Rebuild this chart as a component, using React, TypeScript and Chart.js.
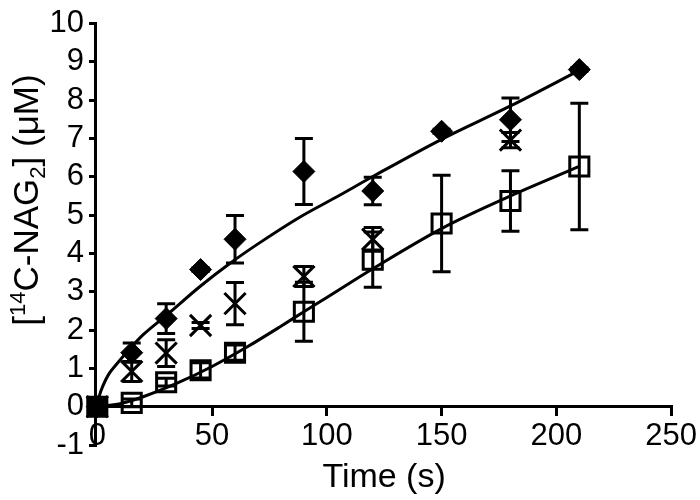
import React, { useEffect, useRef } from "react";
import { Chart, registerables } from "chart.js";

Chart.register(...registerables);

// ---- Data ----
const diamondTimes = [0, 15, 30, 45, 60, 90, 120, 150, 180, 210];
const diamondValues = [0, 1.41, 2.3, 3.58, 4.37, 6.14, 5.63, 7.19, 7.49, 8.8];
const diamondErrors = [0, 0.25, 0.39, 0.05, 0.62, 0.86, 0.36, 0.05, 0.57, 0.05];

const crossTimes = [0, 15, 30, 45, 60, 90, 120, 180];
const crossValues = [0, 0.92, 1.4, 2.12, 2.69, 3.4, 4.37, 6.96];
const crossErrors = [0, 0.26, 0.35, 0.08, 0.55, 0.26, 0.31, 0.2];

const squareTimes = [0, 15, 30, 45, 60, 90, 120, 150, 180, 210];
const squareValues = [0, 0.1, 0.64, 0.95, 1.41, 2.48, 3.84, 4.78, 5.37, 6.27];
const squareErrors = [0, 0.1, 0.1, 0.2, 0.2, 0.77, 0.72, 1.26, 0.79, 1.65];

const fitTopTimes = [0, 1, 2.5, 5, 8, 14, 20, 30, 45, 58, 70, 88, 105, 121, 150, 180, 210];
const fitTopValues = [0, 0.3, 0.55, 0.85, 1.08, 1.5, 1.88, 2.38, 3.15, 3.75, 4.25, 4.94, 5.5, 6.04, 6.98, 7.85, 8.78];

const fitBottomTimes = [0, 10, 20, 35, 50, 65, 80, 90, 100, 120, 150, 180, 210];
const fitBottomValues = [0, 0.08, 0.26, 0.62, 1.05, 1.55, 2.1, 2.48, 2.85, 3.6, 4.65, 5.5, 6.27];

const xTickValues = [0, 50, 100, 150, 200, 250];
const yTickValues = [-1, 0, 1, 2, 3, 4, 5, 6, 7, 8, 9, 10];

const xTitle = "Time (s)";
const yTitleParts = [
  { text: "[", kind: "normal" },
  { text: "14", kind: "sup" },
  { text: "C-NAG", kind: "normal" },
  { text: "2", kind: "sub" },
  { text: "] (\u03bcM)", kind: "normal" },
];

const FONT = "Arial, 'Liberation Sans', Helvetica, sans-serif";

const toPoints = (xs: number[], ys: number[]) => xs.map((x, i) => ({ x, y: ys[i] }));

const errorBarPlugin = {
  id: "errorBars",
  beforeDatasetsDraw(chart: any) {
    const ctx = chart.ctx;
    const xs = chart.scales.x;
    const ys = chart.scales.y;
    chart.data.datasets.forEach((ds: any) => {
      const errs: number[] | undefined = ds.errorValues;
      if (!errs) return;
      ds.data.forEach((p: any, j: number) => {
        const e = errs[j];
        if (!e) return;
        const px = xs.getPixelForValue(p.x);
        const yTop = ys.getPixelForValue(p.y + e);
        const yBot = ys.getPixelForValue(p.y - e);
        ctx.save();
        ctx.strokeStyle = "#000";
        ctx.lineWidth = 3;
        ctx.beginPath();
        ctx.moveTo(px, yTop);
        ctx.lineTo(px, yBot);
        ctx.moveTo(px - 9, yTop);
        ctx.lineTo(px + 9, yTop);
        ctx.moveTo(px - 9, yBot);
        ctx.lineTo(px + 9, yBot);
        ctx.stroke();
        ctx.restore();
      });
    });
  },
};

const titlesPlugin = {
  id: "axisTitles",
  afterDraw(chart: any) {
    const ctx = chart.ctx;
    const area = chart.chartArea;
    ctx.save();
    ctx.fillStyle = "#000";
    // X title
    ctx.font = `34px ${FONT}`;
    ctx.textAlign = "center";
    ctx.textBaseline = "middle";
    ctx.fillText(xTitle, (area.left + area.right) / 2 + 1, 478);

    // Y title (rotated, with super/subscript)
    const bigFont = `35px ${FONT}`;
    const smallFont = `22px ${FONT}`;
    let total = 0;
    const widths = yTitleParts.map((p) => {
      ctx.font = p.kind === "normal" ? bigFont : smallFont;
      const w = ctx.measureText(p.text).width;
      total += w;
      return w;
    });
    ctx.translate(26, 200);
    ctx.rotate(-Math.PI / 2);
    ctx.textAlign = "left";
    ctx.textBaseline = "alphabetic";
    let x = -total / 2;
    const base = 12;
    yTitleParts.forEach((p, i) => {
      ctx.font = p.kind === "normal" ? bigFont : smallFont;
      const dy = p.kind === "sup" ? -13 : p.kind === "sub" ? 7 : 0;
      ctx.fillText(p.text, x, base + dy);
      x += widths[i];
    });
    ctx.restore();
  },
};

export default function App() {
  const canvasRef = useRef<HTMLCanvasElement | null>(null);

  useEffect(() => {
    document.body.style.margin = "0";
    const canvas = canvasRef.current;
    if (!canvas) return;

    const chart = new Chart(canvas, {
      type: "scatter",
      data: {
        datasets: [
          {
            type: "line",
            data: toPoints(fitTopTimes, fitTopValues),
            borderColor: "#000",
            borderWidth: 3,
            pointRadius: 0,
            cubicInterpolationMode: "monotone",
            fill: false,
            order: 10,
            clip: false,
          } as any,
          {
            type: "line",
            data: toPoints(fitBottomTimes, fitBottomValues),
            borderColor: "#000",
            borderWidth: 3,
            pointRadius: 0,
            cubicInterpolationMode: "monotone",
            fill: false,
            order: 10,
            clip: false,
          } as any,
          {
            data: toPoints(crossTimes, crossValues),
            errorValues: crossErrors,
            pointStyle: "crossRot",
            pointRadius: 15,
            borderColor: "#000",
            backgroundColor: "#000",
            borderWidth: 3,
            showLine: false,
            order: 3,
            clip: false,
          } as any,
          {
            data: toPoints(diamondTimes, diamondValues),
            errorValues: diamondErrors,
            pointStyle: "rectRot",
            pointRadius: 11,
            borderColor: "#000",
            backgroundColor: "#000",
            borderWidth: 1,
            showLine: false,
            order: 2,
            clip: false,
          } as any,
          {
            data: toPoints(squareTimes, squareValues),
            errorValues: squareErrors,
            pointStyle: "rect",
            pointRadius: 13.5,
            borderColor: "#000",
            backgroundColor: squareTimes.map((t) => (t === 0 ? "#000" : "rgba(0,0,0,0)")),
            borderWidth: 3,
            showLine: false,
            order: 1,
            clip: false,
          } as any,
        ],
      },
      options: {
        animation: false,
        responsive: true,
        maintainAspectRatio: false,
        events: [],
        layout: { padding: { top: 17, right: 28, bottom: 55, left: 0 } },
        plugins: {
          legend: { display: false },
          tooltip: { enabled: false },
          title: { display: false },
        },
        scales: {
          x: {
            type: "linear",
            position: { y: 0 } as any,
            min: -1,
            max: 250,
            afterFit: (s: any) => {
              s.height = 0;
            },
            afterBuildTicks: (s: any) => {
              s.ticks = xTickValues.map((v) => ({ value: v }));
            },
            grid: {
              display: true,
              drawOnChartArea: false,
              drawTicks: true,
              tickLength: 8,
              color: "#000",
              lineWidth: 3,
            },
            border: { display: true, color: "#000", width: 3 },
            ticks: {
              color: "#000",
              font: { family: FONT, size: 31 },
              padding: 3,
              maxRotation: 0,
              autoSkip: false,
            },
          },
          y: {
            type: "linear",
            min: -1,
            max: 10,
            afterFit: (s: any) => {
              s.width = 95;
            },
            afterBuildTicks: (s: any) => {
              s.ticks = yTickValues.map((v) => ({ value: v }));
            },
            grid: {
              display: true,
              drawOnChartArea: false,
              drawTicks: true,
              tickLength: 6,
              color: "#000",
              lineWidth: 3,
            },
            border: { display: true, color: "#000", width: 3 },
            ticks: {
              color: "#000",
              font: { family: FONT, size: 31 },
              padding: 5,
              autoSkip: false,
            },
          },
        },
      },
      plugins: [errorBarPlugin, titlesPlugin],
    } as any);

    return () => {
      chart.destroy();
    };
  }, []);

  return (
    <div style={{ position: "relative", width: 700, height: 500 }}>
      <canvas ref={canvasRef} />
    </div>
  );
}
